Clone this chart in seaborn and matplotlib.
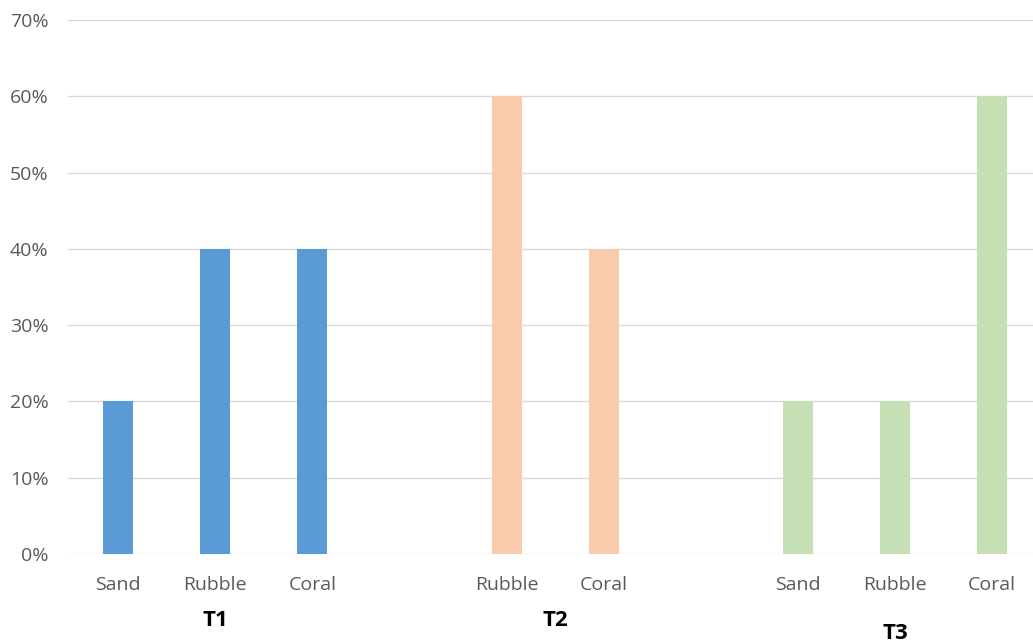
import pandas as pd
import matplotlib.pyplot as plt
import seaborn as sns

# data
groups = ["T1", "T1", "T1", "T2", "T2", "T3", "T3", "T3"]
substrates = ["Sand", "Rubble", "Coral", "Rubble", "Coral", "Sand", "Rubble", "Coral"]
values = [0.20, 0.40, 0.40, 0.60, 0.40, 0.20, 0.20, 0.60]
group_colors = {"T1": "#5B9BD5", "T2": "#F8CBAD", "T3": "#C5E0B4"}

df = pd.DataFrame({"group": groups, "substrate": substrates, "value": values})
df["slot"] = df["group"] + " " + df["substrate"]

# slot order, with empty slots between the groups (like the Excel chart)
order = []
for g in ["T1", "T2", "T3"]:
    if order:
        order.append("gap " + g)
    order += list(df.loc[df["group"] == g, "slot"])

sns.set_style("white")
plt.rcParams["font.family"] = ["Open Sans", "DejaVu Sans"]

fig = plt.figure(figsize=(10.33, 6.42), dpi=100)
ax = fig.add_axes([0.066, 0.137, 0.934, 0.832])

sns.barplot(data=df, x="slot", y="value", hue="group", order=order,
            palette=group_colors, dodge=False, width=0.31, legend=False,
            saturation=1, linewidth=0, ax=ax)

ax.set_ylim(0, 0.70)
ax.set_xlim(-0.515, 9.42)
ax.set_yticks([i / 10 for i in range(8)])
ax.set_yticklabels([f"{i * 10}%" for i in range(8)])
ax.yaxis.grid(True, color="#D9D9D9", linewidth=1)
ax.set_axisbelow(True)

labels = [s.split(" ", 1)[1] if not s.startswith("gap") else "" for s in order]
ax.set_xticks(range(len(order)))
ax.set_xticklabels(labels)
ax.tick_params(axis="x", length=0, pad=16, labelsize=14, labelcolor="#595959")
ax.tick_params(axis="y", length=0, pad=14, labelsize=14, labelcolor="#595959")
ax.set_xlabel("")
ax.set_ylabel("")
for sp in ax.spines.values():
    sp.set_visible(False)

# group labels below the substrate labels
label_y = {"T1": -0.125, "T2": -0.125, "T3": -0.148}
for g in ["T1", "T2", "T3"]:
    idx = [order.index(s) for s in df.loc[df["group"] == g, "slot"]]
    ax.text(sum(idx) / len(idx), label_y[g], g, transform=ax.get_xaxis_transform(),
            ha="center", va="center", fontsize=16, fontweight="bold", color="black")

fig.savefig("out.png", dpi=100)
